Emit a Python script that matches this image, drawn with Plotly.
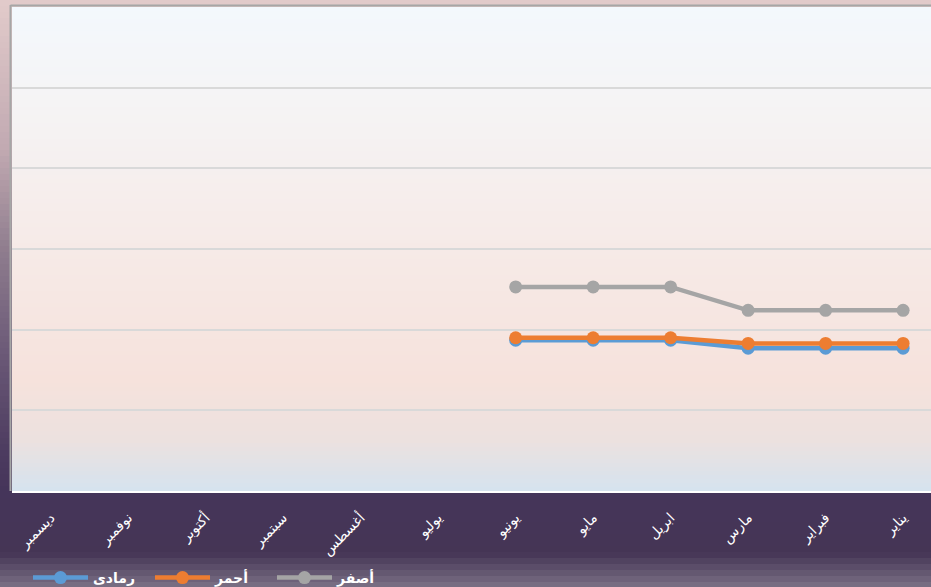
import plotly.graph_objects as go

months = ["يناير", "فبراير", "مارس", "ابريل", "مايو", "يونيو",
          "يوليو", "أغسطس", "سبتمبر", "أكتوبر", "نوفمبر", "ديسمبر"]
gray_vals = [22.4, 22.4, 22.4, 25.3, 25.3, 25.3, None, None, None, None, None, None]
orange_vals = [18.3, 18.3, 18.3, 19.0, 19.0, 19.0, None, None, None, None, None, None]
blue_vals = [17.7, 17.7, 17.7, 18.7, 18.7, 18.7, None, None, None, None, None, None]

W, H = 931, 587
L, T, B = 12, 7, 96
PW, PH = W - L, H - T - B


def px_x(p):
    return (p - L) / PW


def px_y(p):
    return (H - B - p) / PH


def hex_rgb(h):
    h = h.lstrip("#")
    return [int(h[i:i + 2], 16) for i in (0, 2, 4)]


def interp(stops, y):
    for (y0, c0), (y1, c1) in zip(stops, stops[1:]):
        if y0 <= y <= y1:
            t = (y - y0) / (y1 - y0) if y1 > y0 else 0
            a, b = hex_rgb(c0), hex_rgb(c1)
            return "rgb(%d,%d,%d)" % tuple(round(a[i] + (b[i] - a[i]) * t) for i in range(3))
    return stops[-1][1]


shapes = []

# outer background gradient
outer = [(0, "#e2cbcb"), (150, "#c1a9b1"), (250, "#8f7d8e"), (350, "#6c5a78"),
         (450, "#4d3c60"), (491, "#45355a"), (553, "#453555"), (587, "#7a7085")]
step = 6
for y0 in range(0, H, step):
    shapes.append(dict(type="rect", xref="paper", yref="paper", layer="below",
                       x0=px_x(-2), x1=px_x(W + 5), y0=px_y(y0), y1=px_y(y0 + step + 1),
                       fillcolor=interp(outer, y0 + step / 2), line_width=0))

# plot area gradient
inner = [(7, "#f3f8fd"), (100, "#f5f4f5"), (250, "#f6eae7"), (380, "#f6e2dc"),
         (440, "#ece1df"), (491, "#d5e3ef")]
step = 4
for y0 in range(T, H - B, step):
    shapes.append(dict(type="rect", xref="paper", yref="paper", layer="below",
                       x0=0, x1=px_x(W + 5), y0=px_y(y0), y1=px_y(min(y0 + step + 1, H - B)),
                       fillcolor=interp(inner, y0 + step / 2), line_width=0))

# shadow edges
shapes.append(dict(type="line", xref="paper", yref="paper", layer="below",
                   x0=px_x(10.5), x1=px_x(10.5), y0=0, y1=px_y(5),
                   line=dict(color="#a6a6a6", width=2)))
shapes.append(dict(type="line", xref="paper", yref="paper", layer="below",
                   x0=px_x(10.5), x1=px_x(W + 5), y0=px_y(5.5), y1=px_y(5.5),
                   line=dict(color="#a6a6a6", width=2)))

fig = go.Figure()
series = [("رمادى", blue_vals, "#5b9bd5"),
          ("أحمر", orange_vals, "#ed7d31"),
          ("أصفر", gray_vals, "#a5a5a5")]
for name, vals, color in series:
    fig.add_trace(go.Scatter(x=months, y=vals, name=name, mode="lines+markers",
                             line=dict(color=color, width=4.5),
                             marker=dict(color=color, size=13)))

fig.update_layout(
    width=W, height=H,
    margin=dict(l=L, r=0, t=T, b=B, autoexpand=False),
    paper_bgcolor="rgba(0,0,0,0)",
    plot_bgcolor="rgba(0,0,0,0)",
    shapes=shapes,
    font=dict(family="DejaVu Sans, Arial, sans-serif", color="white"),
    showlegend=True,
    legend=dict(orientation="h", x=px_x(28), y=px_y(578), xanchor="left", yanchor="middle",
                font=dict(size=14, color="white", family="DejaVu Sans, Arial, sans-serif",
                          weight="bold"),
                bgcolor="rgba(0,0,0,0)", itemwidth=55, tracegroupgap=0,
                entrywidth=52, entrywidthmode="pixels"),
)
fig.update_xaxes(categoryorder="array", categoryarray=months,
                 range=[11.5, -0.36], tickangle=-45, showgrid=False,
                 showline=True, linecolor="white", linewidth=2, automargin=False,
                 tickfont=dict(size=14, color="white"),
                 ticks="outside", ticklen=11, tickcolor="rgba(0,0,0,0)")
fig.update_yaxes(range=[0, 60], dtick=10, showticklabels=False, automargin=False,
                 gridcolor="#d9d9d9", gridwidth=1.5, zeroline=False)

fig.write_html("out.html", config={"displayModeBar": False},
               post_script="document.body.style.margin='0';")
